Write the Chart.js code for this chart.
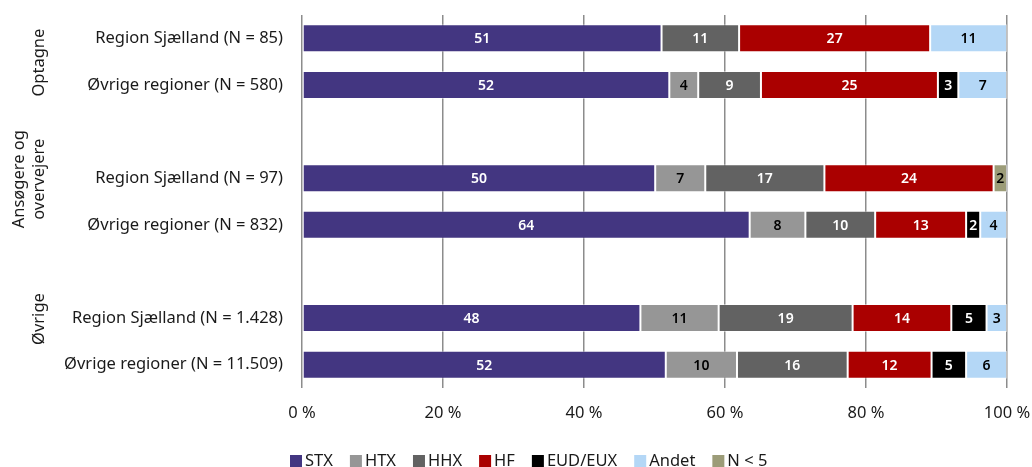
<!DOCTYPE html>
<html>
<head>
<meta charset="utf-8">
<script src="https://cdn.jsdelivr.net/npm/chart.js@4"></script>
<style>
html, body { margin: 0; padding: 0; background: #fff; }
#wrap { width: 1032px; height: 467px; }
</style>
</head>
<body>
<div id="wrap"><canvas id="myChart"></canvas></div>
<script>
// Rows (blank entries are the gaps between groups)
var categories = [
    'Region Sjælland (N = 85)', 'Øvrige regioner (N = 580)', '',
    'Region Sjælland (N = 97)', 'Øvrige regioner (N = 832)', '',
    'Region Sjælland (N = 1.428)', 'Øvrige regioner (N = 11.509)'
];
var groups = ['Optagne', ['Ansøgere og', 'overvejere'], 'Øvrige'];
var groupRows = [[0, 1], [2, 4], [5, 7]];

var seriesNames = ['STX', 'HTX', 'HHX', 'HF', 'EUD/EUX', 'Andet', 'N < 5'];
var stx   = [51.0, 52.1, null, 50.1, 63.5, null, 48.0, 51.6];
var htx   = [0,    4.1,  null, 7.1,  7.9,  null, 11.1, 10.1];
var hhx   = [11.0, 8.9,  null, 16.9, 9.9,  null, 19.0, 15.7];
var hf    = [27.1, 25.1, null, 24.0, 12.9, null, 14.0, 11.9];
var eud   = [0,    2.9,  null, 0,    2.0,  null, 5.0,  4.9];
var andet = [10.9, 6.9,  null, 0,    3.8,  null, 2.9,  5.8];
var nLow  = [0,    0,    null, 1.9,  0,    null, 0,    0];

var xTicks = [0, 20, 40, 60, 80, 100];

var colors = ['#433681', '#969696', '#626262', '#aa0000', '#000000', '#b4d7f6', '#9c9c78'];
var labelColors = ['#fff', '#000', '#fff', '#fff', '#fff', '#000', '#000'];
var allSeries = [stx, htx, hhx, hf, eud, andet, nLow];

var textFont = '"Noto Sans", sans-serif';

// numbers inside the bars
var barLabels = {
    id: 'barLabels',
    afterDatasetsDraw: function(chart) {
        var ctx = chart.ctx;
        ctx.save();
        ctx.font = '600 14px ' + textFont;
        ctx.textAlign = 'center';
        ctx.textBaseline = 'middle';
        chart.data.datasets.forEach(function(ds, i) {
            chart.getDatasetMeta(i).data.forEach(function(bar, j) {
                var v = ds.data[j];
                if (!v) return;
                var c = bar.getCenterPoint();
                ctx.fillStyle = labelColors[i];
                ctx.fillText(Math.round(v), c.x, c.y + 1);
            });
        });
        ctx.restore();
    }
};

// rotated group names on the left
var groupLabels = {
    id: 'groupLabels',
    afterDraw: function(chart) {
        var ctx = chart.ctx, y = chart.scales.y;
        ctx.save();
        ctx.font = '16.5px ' + textFont;
        ctx.fillStyle = '#1a1a1a';
        ctx.textAlign = 'center';
        ctx.textBaseline = 'middle';
        groups.forEach(function(g, k) {
            var lines = [].concat(g);
            var yc = (y.getPixelForValue(groupRows[k][0]) + y.getPixelForValue(groupRows[k][1])) / 2;
            ctx.save();
            ctx.translate(39, yc + 1);
            ctx.rotate(-Math.PI / 2);
            lines.forEach(function(line, i) {
                ctx.fillText(line, 0, (i - (lines.length - 1)) * 20);
            });
            ctx.restore();
        });
        ctx.restore();
    }
};

// legend along the bottom
var bottomLegend = {
    id: 'bottomLegend',
    afterDraw: function(chart) {
        var ctx = chart.ctx;
        ctx.save();
        ctx.font = '16.5px ' + textFont;
        ctx.textBaseline = 'middle';
        var x = 290;
        chart.data.datasets.forEach(function(ds) {
            ctx.fillStyle = ds.backgroundColor;
            ctx.fillRect(x, 455, 12, 12);
            ctx.fillStyle = '#1a1a1a';
            ctx.fillText(ds.label, x + 15, 461);
            x += 15 + ctx.measureText(ds.label).width + 17;
        });
        ctx.restore();
    }
};

var ctx = document.getElementById('myChart').getContext('2d');
var chart = new Chart(ctx, {
    type: 'bar',
    data: {
        labels: categories,
        datasets: seriesNames.map(function(name, i) {
            return {
                label: name,
                data: allSeries[i],
                backgroundColor: colors[i],
                borderColor: 'rgba(255,255,255,0.45)',
                borderWidth: 1,
                borderSkipped: false,
                barPercentage: 0.6,
                categoryPercentage: 1.0
            };
        })
    },
    options: {
        indexAxis: 'y',
        responsive: true,
        maintainAspectRatio: false,
        animation: false,
        layout: { padding: { top: 15, right: 25, bottom: 34, left: 0 } },
        plugins: {
            legend: { display: false },
            tooltip: { enabled: false }
        },
        scales: {
            x: {
                stacked: true,
                min: 0,
                max: 100,
                afterBuildTicks: function(scale) {
                    scale.ticks = xTicks.map(function(v) { return { value: v }; });
                },
                afterFit: function(scale) {
                    scale.height = 45;
                    scale.paddingLeft = 0;
                    scale.paddingRight = 0;
                },
                ticks: {
                    padding: 15,
                    color: '#1a1a1a',
                    font: { family: textFont, size: 16.5 },
                    callback: function(v) { return v + ' %'; }
                },
                grid: { color: '#8c8c8c', lineWidth: 1.5, drawTicks: false },
                border: { display: false }
            },
            y: {
                stacked: true,
                afterFit: function(scale) {
                    scale.width = 302;
                    scale.paddingTop = 0;
                    scale.paddingBottom = 0;
                },
                ticks: {
                    autoSkip: false,
                    padding: 19,
                    color: '#1a1a1a',
                    font: { family: textFont, size: 16.5 }
                },
                grid: { display: false, drawTicks: false },
                border: { display: false }
            }
        }
    },
    plugins: [barLabels, groupLabels, bottomLegend]
});
</script>
</body>
</html>
